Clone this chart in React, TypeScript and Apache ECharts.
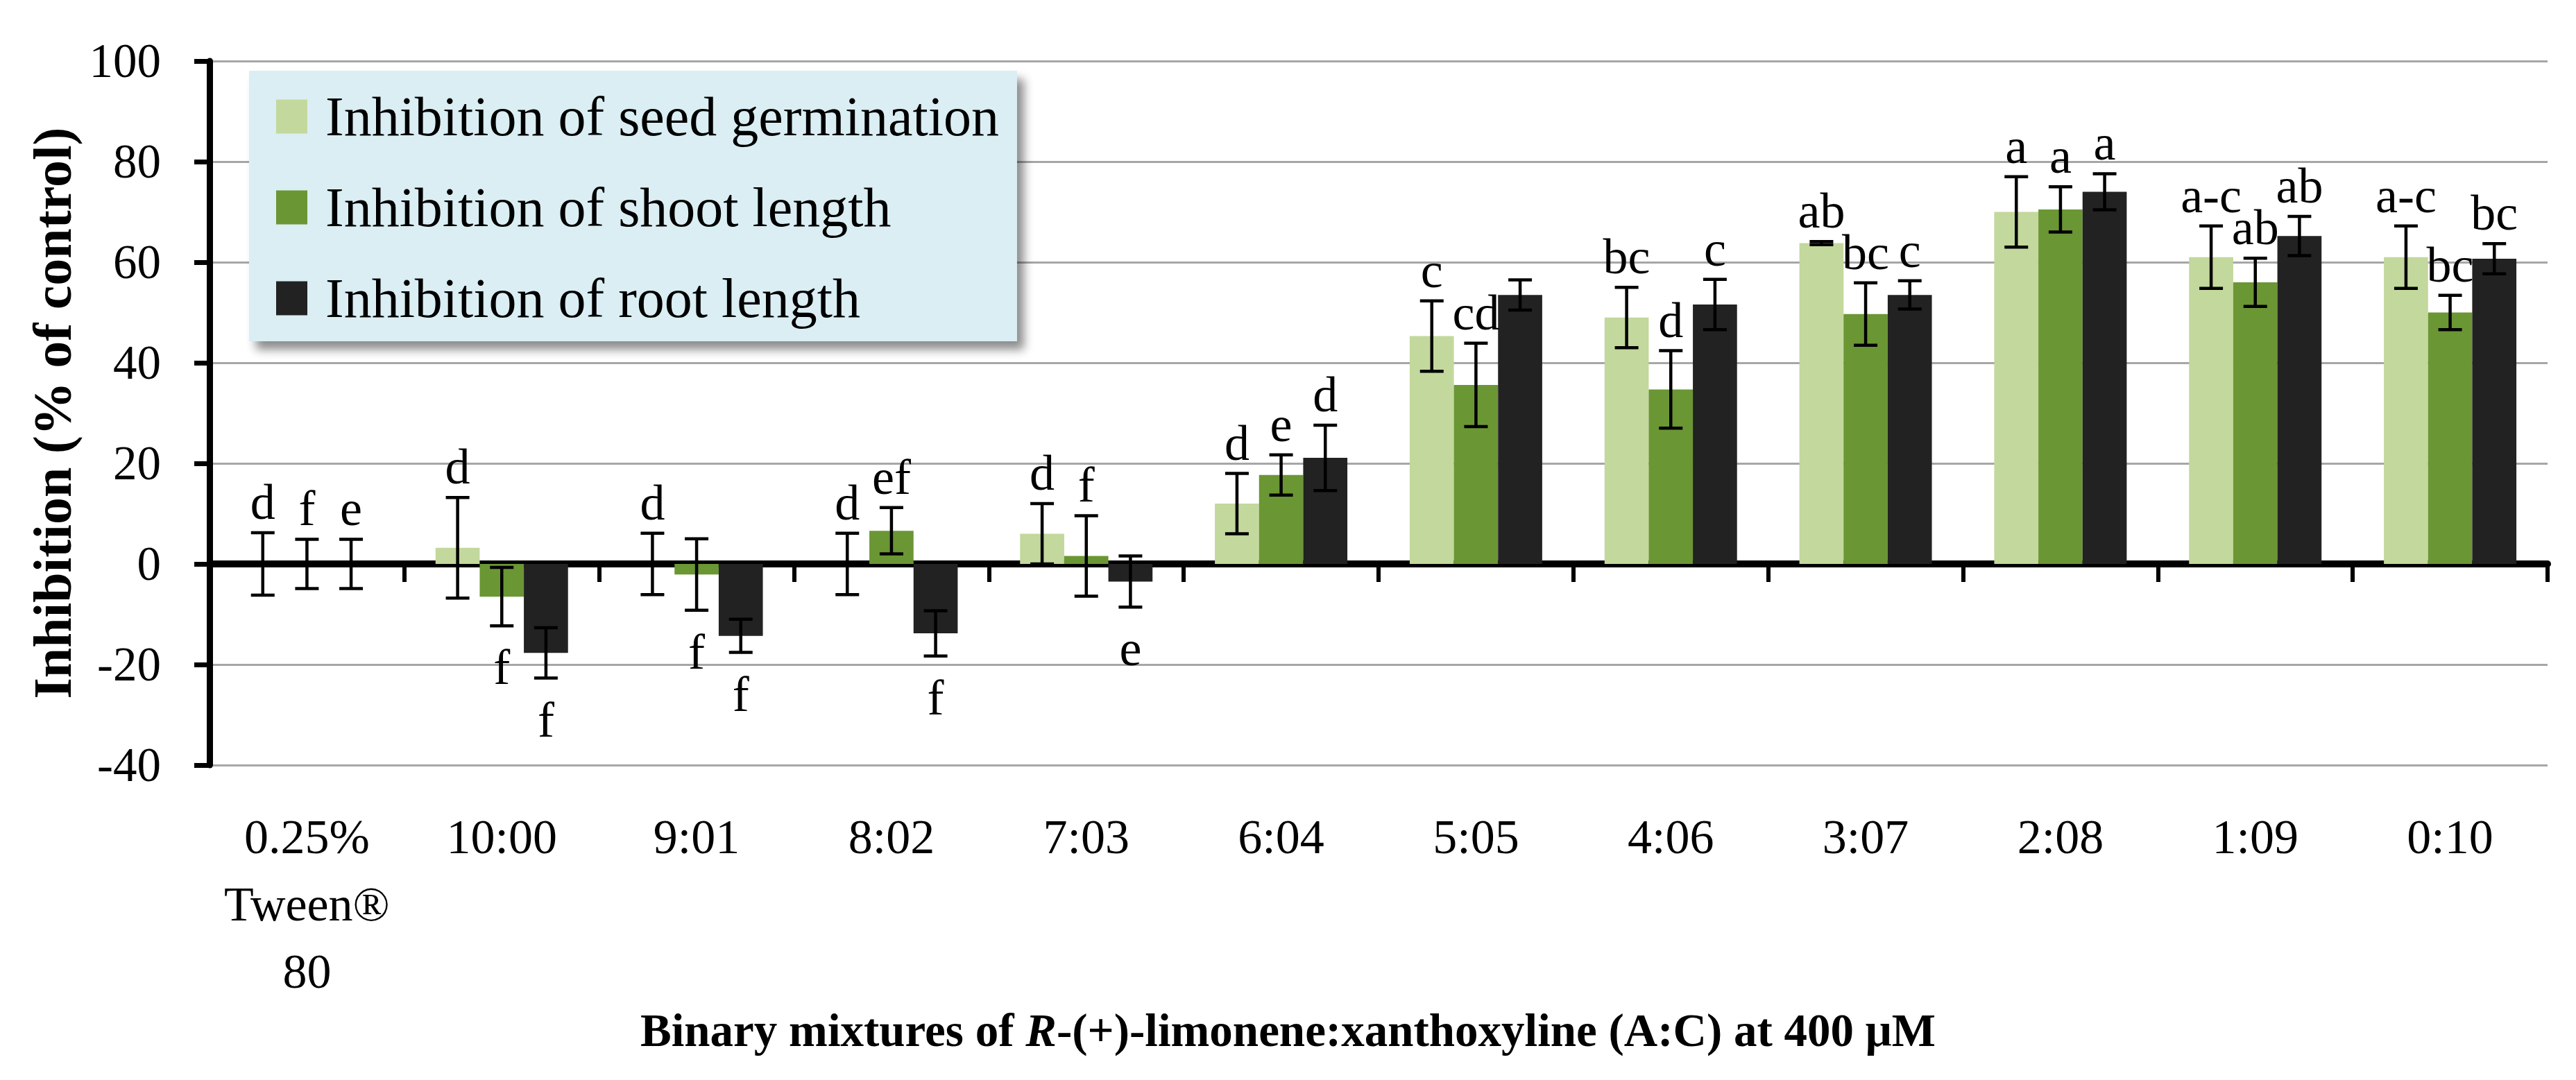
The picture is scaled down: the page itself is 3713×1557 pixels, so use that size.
import React, { useEffect, useRef } from "react";
import * as echarts from "echarts";

const categories = ["0.25%\nTween®\n80", "10:00", "9:01", "8:02", "7:03", "6:04", "5:05", "4:06", "3:07", "2:08", "1:09", "0:10"];
const seriesNames = ["Inhibition of seed germination", "Inhibition of shoot length", "Inhibition of root length"];

const seedValues = [0, 3.2, 0, 0, 6, 12, 45.3, 49, 63.8, 70, 61, 61];
const seedErrors = [6.2, 10, 6.1, 6.1, 6, 6, 7, 6, 0.3, 7, 6.2, 6.2];
const seedLetters = ["d", "d", "d", "d", "d", "d", "c", "bc", "ab", "a", "a-c", "a-c"];
const seedLetterPos = ["a", "a", "a", "a", "a", "a", "a", "a", "a", "a", "a", "a"];

const shootValues = [0, -6.5, -2.1, 6.6, 1.6, 17.7, 35.6, 34.7, 49.7, 70.5, 56, 50];
const shootErrors = [4.9, 5.8, 7.1, 4.6, 8, 4, 8.3, 7.7, 6.2, 4.5, 4.8, 3.4];
const shootLetters = ["f", "f", "f", "ef", "f", "e", "cd", "d", "bc", "a", "ab", "bc"];
const shootLetterPos = ["a", "b", "b", "a", "a", "a", "a", "a", "a", "a", "a", "a"];

const rootValues = [0, -17.7, -14.3, -13.8, -3.5, 21.1, 53.5, 51.6, 53.5, 74, 65.2, 60.7];
const rootErrors = [4.9, 5, 3.3, 4.5, 5.1, 6.5, 3, 5, 2.8, 3.6, 3.9, 3];
const rootLetters = ["e", "f", "f", "f", "e", "d", "", "c", "c", "a", "ab", "bc"];
const rootLetterPos = ["a", "b", "b", "b", "b", "a", "a", "a", "a", "a", "a", "a"];

const yTicks = { min: -40, max: 100, interval: 20 };

const colors = ["#c3d89c", "#6b9634", "#222222"];
const FONT = "Liberation Serif";
const CAT_GAP = 0.32;

function errorSeries(idx: number, values: number[], errors: number[], letters: string[], pos: string[]) {
  return {
    type: "custom",
    xAxisIndex: 0,
    yAxisIndex: 0,
    z: 5,
    clip: false,
    silent: true,
    encode: { x: 0, y: [1, 2] },
    data: values.map((v, i) => [i, v - errors[i], v + errors[i]]),
    renderItem: (params: any, api: any) => {
      const i = params.dataIndex;
      const x = api.value(0);
      const lo = api.coord([x, api.value(1)]);
      const hi = api.coord([x, api.value(2)]);
      const band = api.size([1, 0])[0];
      const bw = (band * (1 - CAT_GAP)) / 3;
      const cx = lo[0] + (idx - 1) * bw;
      const cap = 17;
      const ls = { stroke: "#000", lineWidth: 4.5 };
      const children: any[] = [
        { type: "line", shape: { x1: cx, y1: hi[1], x2: cx, y2: lo[1] }, style: ls },
        { type: "line", shape: { x1: cx - cap, y1: hi[1], x2: cx + cap, y2: hi[1] }, style: ls },
        { type: "line", shape: { x1: cx - cap, y1: lo[1], x2: cx + cap, y2: lo[1] }, style: ls },
      ];
      if (letters[i]) {
        const above = pos[i] === "a";
        children.push({
          type: "text",
          x: cx,
          y: above ? hi[1] - 8 : lo[1] + 24,
          style: {
            text: letters[i],
            fill: "#000",
            fontSize: 72,
            fontFamily: FONT,
            align: "center",
            textAlign: "center",
            verticalAlign: above ? "bottom" : "top",
            textVerticalAlign: above ? "bottom" : "top",
          },
        });
      }
      return { type: "group", children };
    },
  };
}

export default function App() {
  const ref = useRef<HTMLDivElement>(null);
  useEffect(() => {
    if (!ref.current) return;
    const chart = echarts.init(ref.current, null, { renderer: "svg" });
    const barSeries = [seedValues, shootValues, rootValues].map((vals, k) => ({
      name: seriesNames[k],
      type: "bar",
      xAxisIndex: 0,
      yAxisIndex: 0,
      data: vals,
      barGap: "0%",
      barCategoryGap: CAT_GAP * 100 + "%",
      itemStyle: { color: colors[k] },
      z: 2,
    }));
    chart.setOption({
      animation: false,
      backgroundColor: "#ffffff",
      title: {
        text: "{b|Binary mixtures of }{i|R}{b|-(+)-limonene:xanthoxyline (A:C) at 400 μM}",
        left: "center",
        top: 1451,
        padding: 0,
        textStyle: {
          rich: {
            b: { fontFamily: FONT, fontWeight: "bold", fontSize: 67, color: "#000" },
            i: { fontFamily: FONT, fontWeight: "bold", fontStyle: "italic", fontSize: 67, color: "#000" },
          },
        },
      },
      legend: {
        orient: "vertical",
        left: 359,
        top: 102,
        data: seriesNames,
        icon: "rect",
        itemWidth: 45,
        itemHeight: 49,
        itemGap: 51,
        padding: [26, 26, 22, 39],
        backgroundColor: "#daeef3",
        shadowColor: "rgba(0,0,0,0.45)",
        shadowBlur: 14,
        shadowOffsetX: 10,
        shadowOffsetY: 12,
        textStyle: { fontFamily: FONT, fontSize: 80, color: "#000", lineHeight: 80, padding: [0, 0, 0, 21] },
        selectedMode: false,
      },
      grid: { left: 302, right: 41, top: 88, bottom: 454, containLabel: false },
      xAxis: [
        {
          type: "category",
          data: categories,
          position: "bottom",
          axisLine: { show: false, onZero: false },
          axisTick: { show: false },
          axisLabel: { interval: 0, fontFamily: FONT, fontSize: 70, color: "#000", margin: 55, lineHeight: 97 },
          splitLine: { show: false },
        },
        {
          type: "category",
          data: categories,
          position: "top",
          axisLine: { show: true, onZero: true, lineStyle: { color: "#000", width: 10 } },
          axisTick: { show: true, inside: true, length: 26, interval: 0, lineStyle: { color: "#000", width: 6 } },
          axisLabel: { show: false },
          splitLine: { show: false },
        },
      ],
      yAxis: {
        type: "value",
        min: yTicks.min,
        max: yTicks.max,
        interval: yTicks.interval,
        name: "Inhibition (% of control)",
        nameLocation: "middle",
        nameGap: 188,
        nameTextStyle: { fontFamily: FONT, fontWeight: "bold", fontSize: 78, color: "#000" },
        axisLine: { show: true, lineStyle: { color: "#000", width: 9 } },
        axisTick: { show: true, length: 22, lineStyle: { color: "#000", width: 7 } },
        axisLabel: { fontFamily: FONT, fontSize: 69, color: "#000", margin: 70 },
        splitLine: { show: true, lineStyle: { color: "#a6a6a6", width: 3 } },
      },
      series: [
        ...barSeries,
        errorSeries(0, seedValues, seedErrors, seedLetters, seedLetterPos),
        errorSeries(1, shootValues, shootErrors, shootLetters, shootLetterPos),
        errorSeries(2, rootValues, rootErrors, rootLetters, rootLetterPos),
      ],
    });
    return () => chart.dispose();
  }, []);
  return <div ref={ref} style={{ position: "fixed", left: 0, top: 0, width: 3713, height: 1557 }} />;
}
